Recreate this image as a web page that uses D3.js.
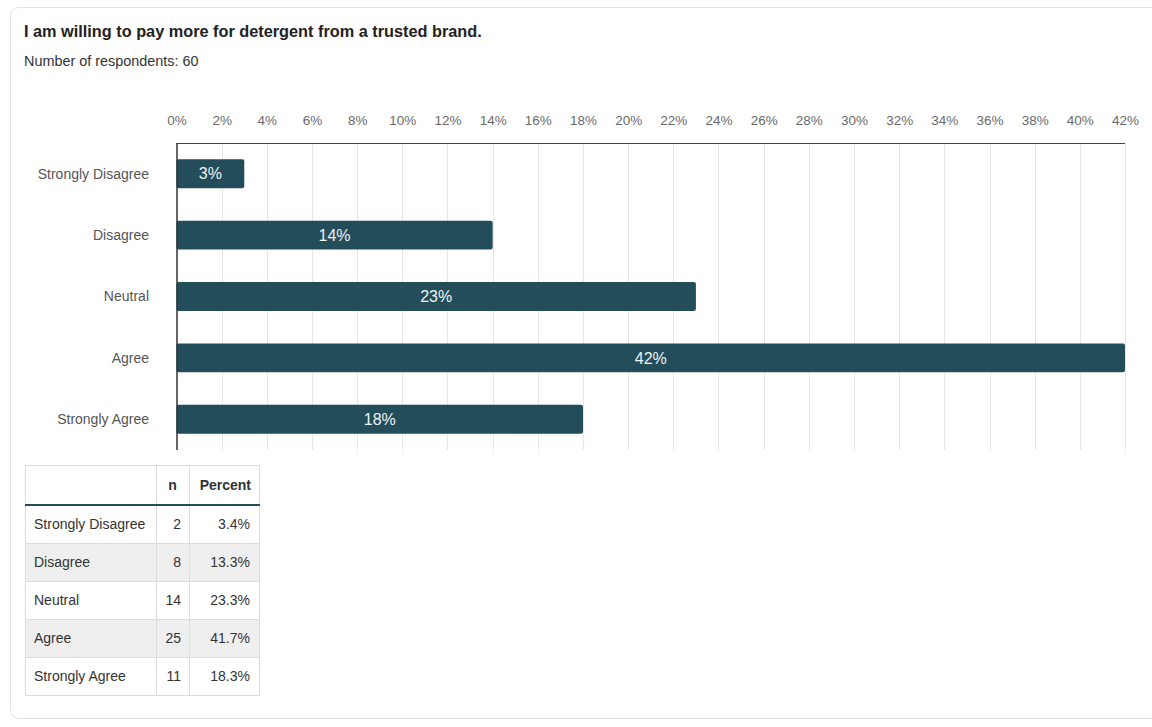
<!DOCTYPE html>
<html>
<head>
<meta charset="utf-8">
<script src="https://cdn.jsdelivr.net/npm/d3@7"></script>
<style>
  html, body { margin: 0; padding: 0; background: #fff; }
  body { width: 1152px; height: 727px; overflow: hidden; font-family: "Liberation Sans", Arial, Helvetica, sans-serif; }
  svg text { font-family: "Liberation Sans", Arial, Helvetica, sans-serif; }
</style>
</head>
<body>
<svg id="chart" width="1152" height="727"></svg>
<script>
// Survey question and response summary
const title = "I am willing to pay more for detergent from a trusted brand.";
const subtitle = "Number of respondents: 60";
const categories = ["Strongly Disagree", "Disagree", "Neutral", "Agree", "Strongly Agree"];
const counts = [2, 8, 14, 25, 11];
const percents = [3.4, 13.3, 23.3, 41.7, 18.3];
const barPercents = [3, 14, 23, 42, 18];
const tickValues = [0, 2, 4, 6, 8, 10, 12, 14, 16, 18, 20, 22, 24, 26, 28, 30, 32, 34, 36, 38, 40, 42];
const tableHeaders = ["", "n", "Percent"];

const svg = d3.select("#chart");
const barColor = "#234d5a";

// card outline
svg.append("rect")
  .attr("x", 10.5).attr("y", 7.5)
  .attr("width", 1160).attr("height", 711)
  .attr("rx", 8).attr("ry", 8)
  .attr("fill", "#fff")
  .attr("stroke", "#e2e2e2");

svg.append("text")
  .attr("x", 24).attr("y", 37)
  .attr("font-size", 16.3).attr("font-weight", "bold").attr("fill", "#222")
  .text(title);

svg.append("text")
  .attr("x", 24).attr("y", 66)
  .attr("font-size", 14.4).attr("fill", "#333")
  .text(subtitle);

// chart area
const plotLeft = 176.5, plotRight = 1125, plotTop = 143, plotBottom = 450;

const x = d3.scaleLinear().domain([0, 42]).range([plotLeft, plotRight]);
const y = d3.scaleBand().domain(categories).range([plotTop, plotBottom])
  .paddingInner(0.53).paddingOuter(0.265);

// vertical grid
svg.append("g").selectAll("line")
  .data(tickValues.filter(d => d > 0))
  .join("line")
  .attr("x1", d => Math.round(x(d)) + 0.5).attr("x2", d => Math.round(x(d)) + 0.5)
  .attr("y1", plotTop).attr("y2", plotBottom)
  .attr("stroke", "#e6e6e6").attr("stroke-width", 1);

// top axis
const xAxis = d3.axisTop(x).tickValues(tickValues).tickFormat(d => d + "%").tickSize(0).tickPadding(0);
const gx = svg.append("g").attr("transform", `translate(0,${plotTop})`).call(xAxis);
gx.select(".domain").remove();
gx.selectAll("text")
  .attr("y", -18)
  .attr("font-size", 13.5).attr("fill", "#6a6a6a")
  .attr("font-family", "Liberation Sans, Arial, sans-serif");

svg.append("line")
  .attr("x1", plotLeft).attr("x2", plotRight)
  .attr("y1", plotTop + 0.5).attr("y2", plotTop + 0.5)
  .attr("stroke", "#444").attr("stroke-width", 1);

// bars
const rows = categories.map((c, i) => ({ c, v: barPercents[i] }));
svg.append("g").selectAll("rect")
  .data(rows)
  .join("rect")
  .attr("x", x(0))
  .attr("y", d => y(d.c))
  .attr("width", d => x(d.v) - x(0))
  .attr("height", y.bandwidth())
  .attr("rx", 2).attr("ry", 2)
  .attr("fill", barColor);

svg.append("g").selectAll("text")
  .data(rows)
  .join("text")
  .attr("x", d => (x(0) + x(d.v)) / 2)
  .attr("y", d => y(d.c) + y.bandwidth() / 2)
  .attr("dy", "0.35em")
  .attr("text-anchor", "middle")
  .attr("font-size", 16).attr("fill", "#eef3f4")
  .text(d => d.v + "%");

// left axis line and category labels
svg.append("line")
  .attr("x1", plotLeft + 0.5).attr("x2", plotLeft + 0.5)
  .attr("y1", plotTop).attr("y2", plotBottom)
  .attr("stroke", "#333").attr("stroke-width", 1.5);

svg.append("g").selectAll("text")
  .data(categories)
  .join("text")
  .attr("x", 149)
  .attr("y", d => y(d) + y.bandwidth() / 2)
  .attr("dy", "0.35em")
  .attr("text-anchor", "end")
  .attr("font-size", 14).attr("fill", "#555")
  .text(d => d);

// summary table
const tx = [25, 156, 189, 259];
const headerTop = 465, headerBottom = 505, rowH = 38;
const tbl = svg.append("g");

const tableRows = categories.map((c, i) => ({ c, n: counts[i], p: percents[i].toFixed(1) + "%" }));

tbl.selectAll("rect.row")
  .data(tableRows)
  .join("rect")
  .attr("class", "row")
  .attr("x", tx[0]).attr("y", (d, i) => headerBottom + i * rowH)
  .attr("width", tx[3] - tx[0]).attr("height", rowH)
  .attr("fill", (d, i) => i % 2 === 1 ? "#efefef" : "#fff");

// cell borders
const gridColor = "#dcdcdc";
const tableBottom = headerBottom + tableRows.length * rowH;
tbl.selectAll("line.v")
  .data(tx)
  .join("line")
  .attr("class", "v")
  .attr("x1", d => d + 0.5).attr("x2", d => d + 0.5)
  .attr("y1", headerTop).attr("y2", tableBottom)
  .attr("stroke", gridColor);

const hLines = [headerTop].concat(d3.range(1, tableRows.length + 1).map(i => headerBottom + i * rowH));
tbl.selectAll("line.h")
  .data(hLines)
  .join("line")
  .attr("class", "h")
  .attr("x1", tx[0]).attr("x2", tx[3] + 1)
  .attr("y1", d => d + 0.5).attr("y2", d => d + 0.5)
  .attr("stroke", gridColor);

tbl.append("line")
  .attr("x1", tx[0]).attr("x2", tx[3] + 1)
  .attr("y1", headerBottom).attr("y2", headerBottom)
  .attr("stroke", barColor).attr("stroke-width", 2);

// header text
tbl.append("text")
  .attr("x", (tx[1] + tx[2]) / 2).attr("y", (headerTop + headerBottom) / 2)
  .attr("dy", "0.35em").attr("text-anchor", "middle")
  .attr("font-size", 14).attr("font-weight", "bold").attr("fill", "#333")
  .text(tableHeaders[1]);
tbl.append("text")
  .attr("x", tx[3] - 8).attr("y", (headerTop + headerBottom) / 2)
  .attr("dy", "0.35em").attr("text-anchor", "end")
  .attr("font-size", 14).attr("font-weight", "bold").attr("fill", "#333")
  .text(tableHeaders[2]);

// body text
const cellY = (i) => headerBottom + i * rowH + rowH / 2;
tbl.selectAll("text.lab")
  .data(tableRows).join("text").attr("class", "lab")
  .attr("x", tx[0] + 9).attr("y", (d, i) => cellY(i)).attr("dy", "0.35em")
  .attr("font-size", 14).attr("fill", "#333")
  .text(d => d.c);
tbl.selectAll("text.n")
  .data(tableRows).join("text").attr("class", "n")
  .attr("x", tx[2] - 8).attr("y", (d, i) => cellY(i)).attr("dy", "0.35em")
  .attr("text-anchor", "end")
  .attr("font-size", 14).attr("fill", "#333")
  .text(d => d.n);
tbl.selectAll("text.p")
  .data(tableRows).join("text").attr("class", "p")
  .attr("x", tx[3] - 9).attr("y", (d, i) => cellY(i)).attr("dy", "0.35em")
  .attr("text-anchor", "end")
  .attr("font-size", 14).attr("fill", "#333")
  .text(d => d.p);
</script>
</body>
</html>
